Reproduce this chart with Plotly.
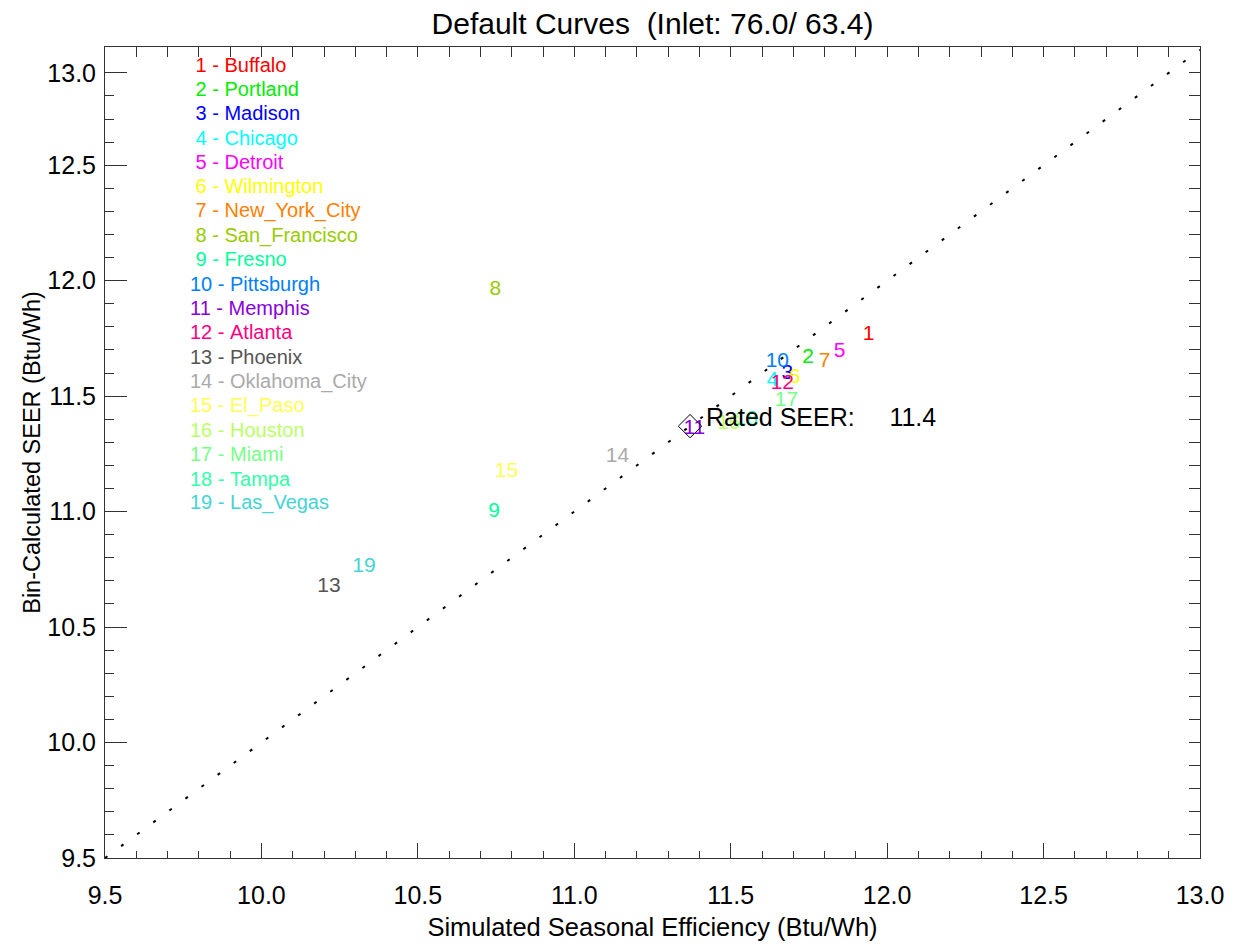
import numpy as np
import plotly.graph_objects as go

# ---------------- data ----------------
city_ids = list(range(1, 20))
city_names = ["Buffalo", "Portland", "Madison", "Chicago", "Detroit", "Wilmington",
              "New_York_City", "San_Francisco", "Fresno", "Pittsburgh", "Memphis",
              "Atlanta", "Phoenix", "Oklahoma_City", "El_Paso", "Houston", "Miami",
              "Tampa", "Las_Vegas"]
sim_eff = [11.941, 11.747, 11.681, 11.633, 11.848, 11.704, 11.800, 10.748, 10.744,
           11.649, 11.384, 11.665, 10.216, 11.138, 10.783, 11.494, 11.678, 11.550, 10.328]
bin_seer = [11.766, 11.667, 11.597, 11.568, 11.693, 11.580, 11.649, 11.961, 10.999,
            11.647, 11.358, 11.554, 10.674, 11.238, 11.174, 11.381, 11.479, 11.398, 10.761]
city_colors = ["#FF0000", "#00EE00", "#0000FF", "#00FFFF", "#FF00FF", "#FFFF00",
               "#FF7F00", "#99CC00", "#00FF99", "#0080FF", "#8800DD", "#FF0080",
               "#555555", "#AAAAAA", "#FFFF55", "#BBFF66", "#77FF88", "#33FFAA", "#44D4D4"]
rated_seer = 11.37

x_range = [9.5, 13.0]
y_range = [9.5, 13.012]
x_major = [9.5, 10.0, 10.5, 11.0, 11.5, 12.0, 12.5, 13.0]
y_major = [9.5, 10.0, 10.5, 11.0, 11.5, 12.0, 12.5, 12.9]
y_major_text = ["9.5", "10.0", "10.5", "11.0", "11.5", "12.0", "12.5", "13.0"]

FONT = "Liberation Sans, Arial, Helvetica, sans-serif"

# figure sits at an 8px page offset; plot area in figure pixels
W, H = 1223, 933
L, T, R, B = 97, 39, 1192, 850

fig = go.Figure()

# 1:1 reference line
fig.add_trace(go.Scatter(x=x_range, y=x_range, mode="lines",
                         line=dict(color="black", width=2, dash="3px,17px"),
                         hoverinfo="skip", showlegend=False))

# city number labels
fig.add_trace(go.Scatter(x=sim_eff, y=bin_seer, mode="text",
                         text=[str(i) for i in city_ids],
                         textposition="middle center",
                         textfont=dict(family=FONT, size=21, color=city_colors),
                         showlegend=False))

# rated SEER diamond
fig.add_trace(go.Scatter(x=[rated_seer], y=[rated_seer], mode="markers",
                         marker=dict(symbol="diamond-open", size=18, color="black",
                                     line=dict(width=1, color="black")),
                         showlegend=False))

# invisible trace for secondary (mirror) axes
fig.add_trace(go.Scatter(x=x_range, y=y_range, xaxis="x2", yaxis="y2", mode="markers",
                         marker=dict(opacity=0), hoverinfo="skip", showlegend=False))

annotations = []
annotations.append(dict(x=rated_seer, y=rated_seer, xref="x", yref="y",
                        text="Rated SEER:" + "\u00a0" * 5 + f"{rated_seer:.1f}",
                        showarrow=False, xanchor="left", yanchor="middle",
                        xshift=14, yshift=9,
                        font=dict(family=FONT, size=25, color="black")))

# city legend (text list)
pw, ph = R - L, B - T
for k, (cid, name, col) in enumerate(zip(city_ids, city_names, city_colors)):
    label = f"{cid:2d} - {name}".replace(" ", "\u00a0")
    annotations.append(dict(x=(188 - 8 - L) / pw, y=1 - (64.5 - 8 - T) / ph - k * 24.36 / ph,
                            xref="paper", yref="paper", text=label, showarrow=False,
                            xanchor="left", yanchor="middle",
                            font=dict(family=FONT, size=20, color=col)))

minor_y = [v for v in np.round(np.arange(9.6, 12.85, 0.1), 1) if v not in y_major]
all_y01 = list(np.round(np.arange(9.6, 12.95, 0.1), 1))

axis_common = dict(showgrid=False, zeroline=False, showline=True, linecolor="#333333",
                   linewidth=1, tickcolor="#333333", tickwidth=1, automargin=False)

fig.update_layout(
    width=W, height=H,
    margin=dict(l=L, r=W - R, t=T, b=H - B),
    paper_bgcolor="white", plot_bgcolor="white",
    font=dict(family=FONT, color="black"),
    title=dict(text="Default Curves\u00a0\u00a0(Inlet: 76.0/ 63.4)",
               x=(L + R) / 2 / W, xref="container", xanchor="center",
               y=1 - 15 / H, yref="container", yanchor="middle",
               font=dict(family=FONT, size=30, color="black")),
    xaxis=dict(range=x_range, tickmode="array", tickvals=x_major,
               ticktext=[f"{v:.1f}" for v in x_major],
               ticks="inside", ticklen=15, ticklabelstandoff=15,
               minor=dict(dtick=0.1, tick0=9.5, ticks="inside", ticklen=7,
                          tickcolor="#333333", tickwidth=1),
               tickfont=dict(family=FONT, size=25, color="black"),
               title=dict(text="Simulated Seasonal Efficiency (Btu/Wh)", standoff=18,
                          font=dict(family=FONT, size=25.5, color="black")),
               **axis_common),
    yaxis=dict(range=y_range, tickmode="array", tickvals=y_major, ticktext=y_major_text,
               ticks="inside", ticklen=22, ticklabelstandoff=3,
               minor=dict(tickmode="array", tickvals=minor_y, ticks="inside", ticklen=9,
                          tickcolor="#333333", tickwidth=1),
               tickfont=dict(family=FONT, size=25, color="black"),
               title=dict(text="Bin-Calculated SEER (Btu/Wh)", standoff=0,
                          font=dict(family=FONT, size=23.5, color="black")),
               **axis_common),
    xaxis2=dict(range=x_range, overlaying="x", side="top", tickmode="array",
                tickvals=list(np.round(np.arange(9.6, 12.95, 0.1), 1)),
                ticks="inside", ticklen=10, showticklabels=False, **axis_common),
    yaxis2=dict(range=y_range, overlaying="y", side="right", tickmode="array",
                tickvals=all_y01, ticks="inside", ticklen=11, showticklabels=False,
                **axis_common),
    annotations=annotations,
    showlegend=False,
)

fig.write_html("out.html")
